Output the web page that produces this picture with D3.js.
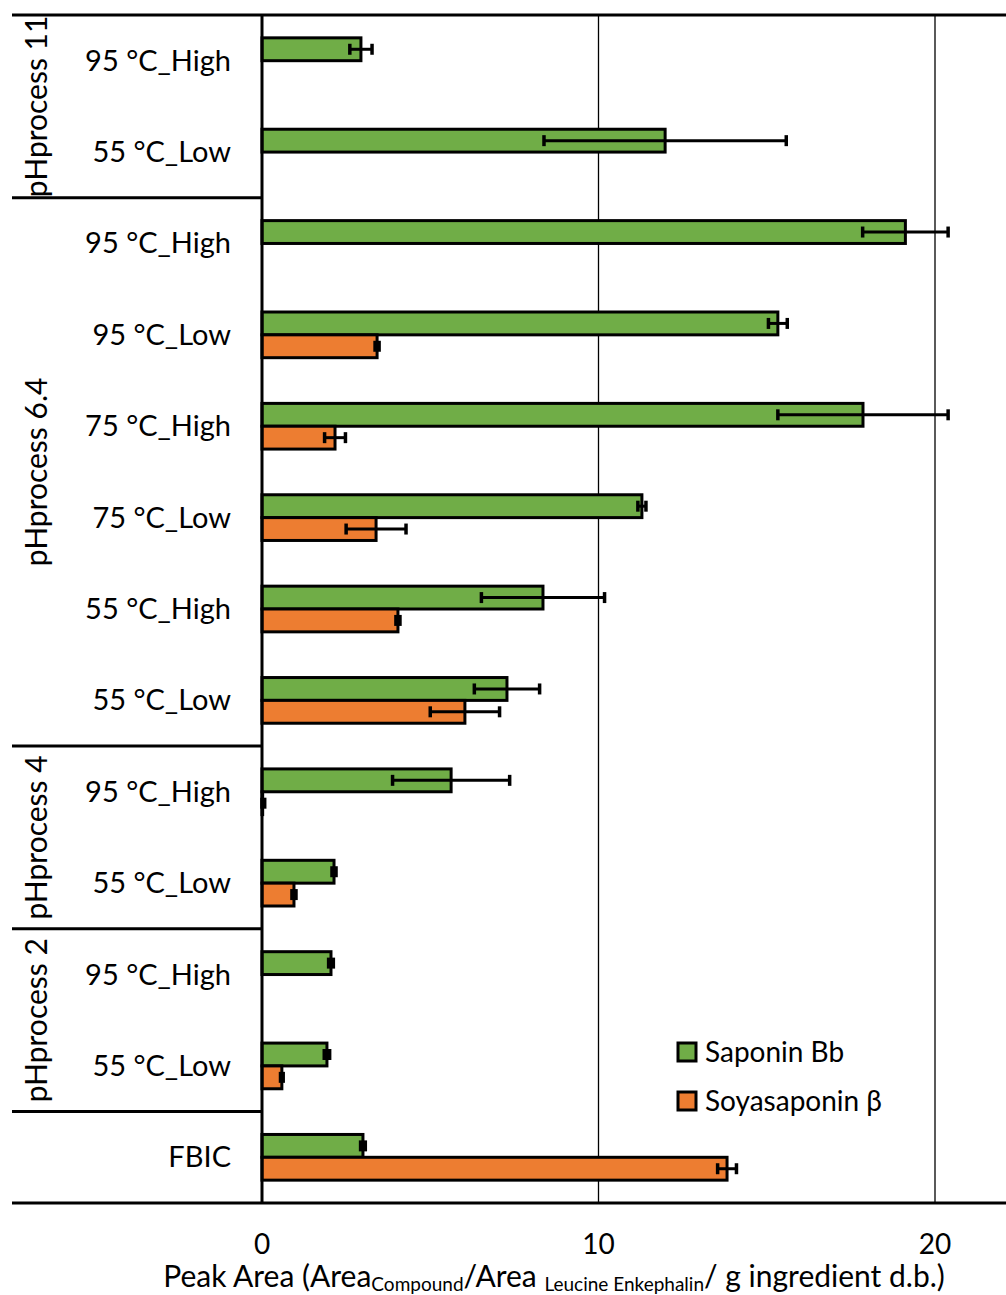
<!DOCTYPE html>
<meta charset="utf-8">
<script src="https://d3js.org/d3.v7.min.js"></script>
<style>
  body { margin: 0; background: #fff; }
  text { font-family: Lato, "Open Sans", sans-serif; fill: #000; }
</style>
<div id="chart"></div>
<script>
// rows top to bottom
var categories = ["95 °C_High", "55 °C_Low", "95 °C_High", "95 °C_Low", "75 °C_High", "75 °C_Low",
                  "55 °C_High", "55 °C_Low", "95 °C_High", "55 °C_Low", "95 °C_High", "55 °C_Low", "FBIC"];
var groupNames = ["pHprocess 11", "pHprocess 6.4", "pHprocess 4", "pHprocess 2"];
var groupSizes = [2, 6, 2, 2];

var seriesNames = ["Saponin Bb", "Soyasaponin β"];
var saponinBb    = [2.94, 11.98, 19.12, 15.33, 17.86, 11.29, 8.35, 7.28, 5.62, 2.14, 2.05, 1.93, 3.0];
var saponinBbErr = [0.33, 3.6, 1.27, 0.28, 2.53, 0.12, 1.83, 0.97, 1.74, 0.06, 0.07, 0.08, 0.07];
var soyasaponin    = [null, null, null, 3.42, 2.17, 3.39, 4.04, 6.03, 0.02, 0.95, null, 0.59, 13.82];
var soyasaponinErr = [null, null, null, 0.06, 0.31, 0.89, 0.06, 1.03, 0.06, 0.06, null, 0.04, 0.28];

var xTicks = [0, 10, 20];
var colors = ["#70AD47", "#ED7D31"];

var W = 1006, H = 1295;
var plotLeft = 262, plotTop = 15, plotBottom = 1203;

var svg = d3.select("#chart").append("svg")
    .attr("width", W).attr("height", H);

var x = d3.scaleLinear().domain([0, 20]).range([plotLeft, 935]);

var y = d3.scaleBand()
    .domain(d3.range(categories.length))
    .range([plotTop, plotBottom])
    .paddingInner(0.5)
    .paddingOuter(0.25);

var ySub = d3.scaleBand().domain(seriesNames).range([0, y.bandwidth()]);

// gridlines
svg.append("g").selectAll("line")
  .data(xTicks.slice(1))
  .enter().append("line")
    .attr("x1", function(d) { return x(d); })
    .attr("x2", function(d) { return x(d); })
    .attr("y1", plotTop).attr("y2", plotBottom)
    .attr("stroke", "#000").attr("stroke-width", 1.3);

// bars
var data = [];
categories.forEach(function(c, i) {
  data.push({row: i, s: seriesNames[0], v: saponinBb[i], e: saponinBbErr[i], c: colors[0]});
  if (soyasaponin[i] != null)
    data.push({row: i, s: seriesNames[1], v: soyasaponin[i], e: soyasaponinErr[i], c: colors[1]});
});

svg.append("g").selectAll("rect")
  .data(data)
  .enter().append("rect")
    .attr("x", x(0))
    .attr("y", function(d) { return y(d.row) + ySub(d.s); })
    .attr("width", function(d) { return x(d.v) - x(0); })
    .attr("height", ySub.bandwidth())
    .attr("fill", function(d) { return d.c; })
    .attr("stroke", "#000").attr("stroke-width", 3);

// error bars
var eb = svg.append("g").selectAll("g")
  .data(data)
  .enter().append("g")
    .attr("transform", function(d) { return "translate(0," + (y(d.row) + ySub(d.s) + ySub.bandwidth() / 2) + ")"; });
eb.append("line")
    .attr("x1", function(d) { return x(Math.max(0, d.v - d.e)); })
    .attr("x2", function(d) { return x(d.v + d.e); })
    .attr("stroke", "#000").attr("stroke-width", 3);
eb.selectAll(".cap")
  .data(function(d) { return [Math.max(0, d.v - d.e), d.v + d.e]; })
  .enter().append("line")
    .attr("x1", function(d) { return x(d); })
    .attr("x2", function(d) { return x(d); })
    .attr("y1", -5.5).attr("y2", 5.5)
    .attr("stroke", "#000").attr("stroke-width", 3.5);

// frame lines
svg.append("line").attr("x1", 12).attr("x2", W).attr("y1", plotTop).attr("y2", plotTop)
    .attr("stroke", "#000").attr("stroke-width", 3);
svg.append("line").attr("x1", 12).attr("x2", W).attr("y1", plotBottom).attr("y2", plotBottom)
    .attr("stroke", "#000").attr("stroke-width", 3);
svg.append("line").attr("x1", x(0)).attr("x2", x(0)).attr("y1", plotTop).attr("y2", plotBottom)
    .attr("stroke", "#000").attr("stroke-width", 3);

// group separators and group labels
var step = y.step();
var start = 0;
groupNames.forEach(function(g, gi) {
  var y0 = plotTop + start * step, y1 = plotTop + (start + groupSizes[gi]) * step;
  svg.append("line").attr("x1", 12).attr("x2", x(0)).attr("y1", y1).attr("y2", y1)
      .attr("stroke", "#000").attr("stroke-width", 3);
  svg.append("text")
      .attr("transform", "translate(47," + ((y0 + y1) / 2) + ") rotate(-90)")
      .attr("text-anchor", "middle")
      .style("font-size", "30px")
      .text(g);
  start += groupSizes[gi];
});

// category labels
svg.append("g").selectAll("text")
  .data(categories)
  .enter().append("text")
    .attr("x", 231)
    .attr("y", function(d, i) { return y(i) + y.bandwidth() / 2 + 10; })
    .attr("text-anchor", "end")
    .style("font-size", "29px")
    .text(function(d) { return d; });

// x axis tick labels
svg.append("g").selectAll("text")
  .data(xTicks)
  .enter().append("text")
    .attr("x", function(d) { return x(d); })
    .attr("y", 1254)
    .attr("text-anchor", "middle")
    .style("font-size", "28px")
    .text(function(d) { return d; });

// axis title
var title = svg.append("text")
    .attr("x", 554).attr("y", 1287)
    .attr("text-anchor", "middle")
    .style("font-size", "30px");
title.append("tspan").text("Peak Area (Area");
title.append("tspan").attr("dy", 4).style("font-size", "19px").text("Compound");
title.append("tspan").attr("dy", -4).text("/Area ");
title.append("tspan").attr("dy", 4).style("font-size", "19px").text("Leucine Enkephalin");
title.append("tspan").attr("dy", -4).text("/ g ingredient d.b.)");

// legend
var legend = svg.append("g").selectAll("g")
  .data(seriesNames)
  .enter().append("g")
    .attr("transform", function(d, i) { return "translate(678," + (1043 + i * 49) + ")"; });
legend.append("rect")
    .attr("width", 18).attr("height", 18)
    .attr("fill", function(d, i) { return colors[i]; })
    .attr("stroke", "#000").attr("stroke-width", 3);
legend.append("text")
    .attr("x", 27).attr("y", 19)
    .style("font-size", "28px")
    .text(function(d) { return d; });
</script>
